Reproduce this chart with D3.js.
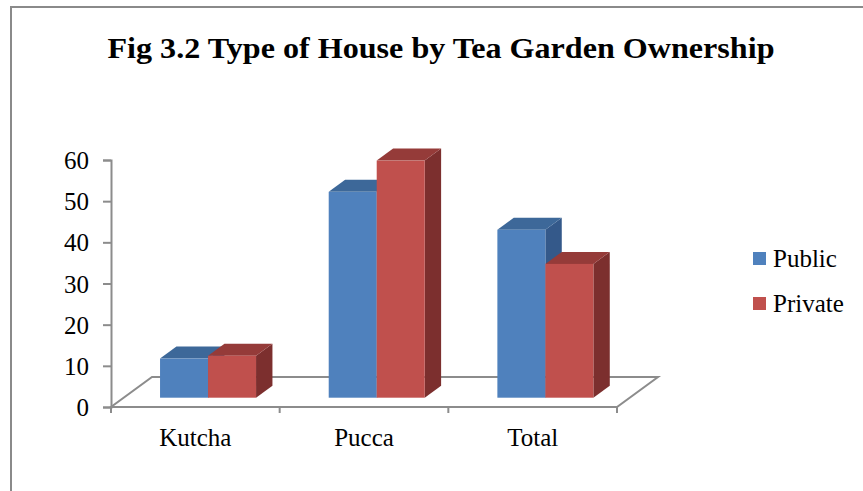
<!DOCTYPE html>
<html>
<head>
<meta charset="utf-8">
<script src="https://cdn.jsdelivr.net/npm/d3@7/dist/d3.min.js"></script>
<style>
  html, body { margin: 0; padding: 0; background: #fff; }
  svg { display: block; }
  svg text { font-family: "Liberation Serif", "Times New Roman", serif !important; fill: #000; }
</style>
</head>
<body>
<svg id="chart" width="863" height="491"></svg>
<script>
const title = "Fig 3.2 Type of House by Tea Garden Ownership";
const categories = ["Kutcha", "Pucca", "Total"];
const seriesNames = ["Public", "Private"];
const publicValues = [9.5, 50, 40.8];
const privateValues = [10.2, 57.6, 32.5];
const yTicks = [0, 10, 20, 30, 40, 50, 60];

const svg = d3.select("#chart");
const W = 863, H = 491;

const colors = {
  Public: { front: "#4F81BD", top: "#3D6899", side: "#34598A" },
  Private: { front: "#C0504D", top: "#953B39", side: "#7C2F2E" }
};
const axisColor = "#8C8C8C";

// frame
svg.append("path")
  .attr("d", `M11,${H} L11,7 L${W},7`)
  .attr("fill", "none").attr("stroke", "#8A8A8A").attr("stroke-width", 2);

// title
svg.append("text")
  .attr("x", 441).attr("y", 58)
  .attr("text-anchor", "middle")
  .attr("font-size", 30).attr("font-weight", "bold")
  .attr("textLength", 667).attr("lengthAdjust", "spacingAndGlyphs")
  .text(title);

// scales
const x0 = 111, x1 = 617, y0 = 407, yTop = 160;
const depth = { dx: 41, dy: -30 };
const x = d3.scaleBand().domain(categories).range([x0, x1]);
const y = d3.scaleLinear().domain([0, 60]).range([y0, yTop]);
const series = d3.scaleBand().domain(seriesNames).range([0, 96]);

// floor
svg.append("path")
  .attr("d", `M${x0},${y0} L${x1},${y0} L${x1 + depth.dx},${y0 + depth.dy} L${x0 + depth.dx},${y0 + depth.dy} Z`)
  .attr("fill", "#fff").attr("stroke", axisColor).attr("stroke-width", 2);

// y axis
const yAxis = d3.axisLeft(y).tickValues(yTicks).tickSize(8).tickPadding(14).tickFormat(d3.format("d"));
const ya = svg.append("g").attr("transform", `translate(${x0},0)`).call(yAxis);
ya.attr("font-family", null).attr("font-size", null);
ya.select(".domain").attr("stroke", axisColor).attr("stroke-width", 2);
ya.selectAll(".tick line").attr("stroke", axisColor).attr("stroke-width", 2);
ya.selectAll(".tick text")
  .style("font-size", "25px").attr("fill", "#000").attr("dy", "0.34em");

// x axis ticks
const xTickPos = categories.map(c => x(c)).concat([x1]);
svg.append("g").selectAll("line").data(xTickPos).join("line")
  .attr("x1", d => d).attr("x2", d => d)
  .attr("y1", y0).attr("y2", y0 + 6)
  .attr("stroke", axisColor).attr("stroke-width", 2);

svg.append("g").selectAll("text").data(categories).join("text")
  .attr("x", d => x(d) + x.bandwidth() / 2)
  .attr("y", 446)
  .attr("text-anchor", "middle")
  .style("font-size", "25px")
  .text(d => d);

// bars
const fFront = 0.31, fBack = 0.71;
const off = { dx: depth.dx * fFront, dy: depth.dy * fFront };
const bd = { dx: depth.dx * (fBack - fFront), dy: depth.dy * (fBack - fFront) };
const groupOffset = (x.bandwidth() - 96) / 2;

const data = [];
categories.forEach((c, i) => {
  data.push({ cat: c, s: "Public", v: publicValues[i] });
  data.push({ cat: c, s: "Private", v: privateValues[i] });
});

const bars = svg.append("g").selectAll("g").data(data).join("g");
bars.each(function(d) {
  const el = d3.select(this);
  const xl = x(d.cat) + groupOffset + series(d.s) + off.dx;
  const xr = xl + series.bandwidth();
  const yb = y(0) + off.dy;
  const yt = y(d.v) + off.dy;
  const col = colors[d.s];
  el.append("path")
    .attr("d", `M${xr},${yb} L${xr + bd.dx},${yb + bd.dy} L${xr + bd.dx},${yt + bd.dy} L${xr},${yt} Z`)
    .attr("fill", col.side);
  el.append("path")
    .attr("d", `M${xl},${yt} L${xr},${yt} L${xr + bd.dx},${yt + bd.dy} L${xl + bd.dx},${yt + bd.dy} Z`)
    .attr("fill", col.top);
  el.append("rect")
    .attr("x", xl).attr("y", yt)
    .attr("width", series.bandwidth()).attr("height", yb - yt)
    .attr("fill", col.front);
});

// legend
const legend = svg.append("g").selectAll("g").data(seriesNames).join("g")
  .attr("transform", (d, i) => `translate(753,${252 + i * 45})`);
legend.append("rect").attr("width", 13).attr("height", 13)
  .attr("fill", d => colors[d].front);
legend.append("text").attr("x", 20).attr("y", 15)
  .style("font-size", "25px").text(d => d);
</script>
</body>
</html>
